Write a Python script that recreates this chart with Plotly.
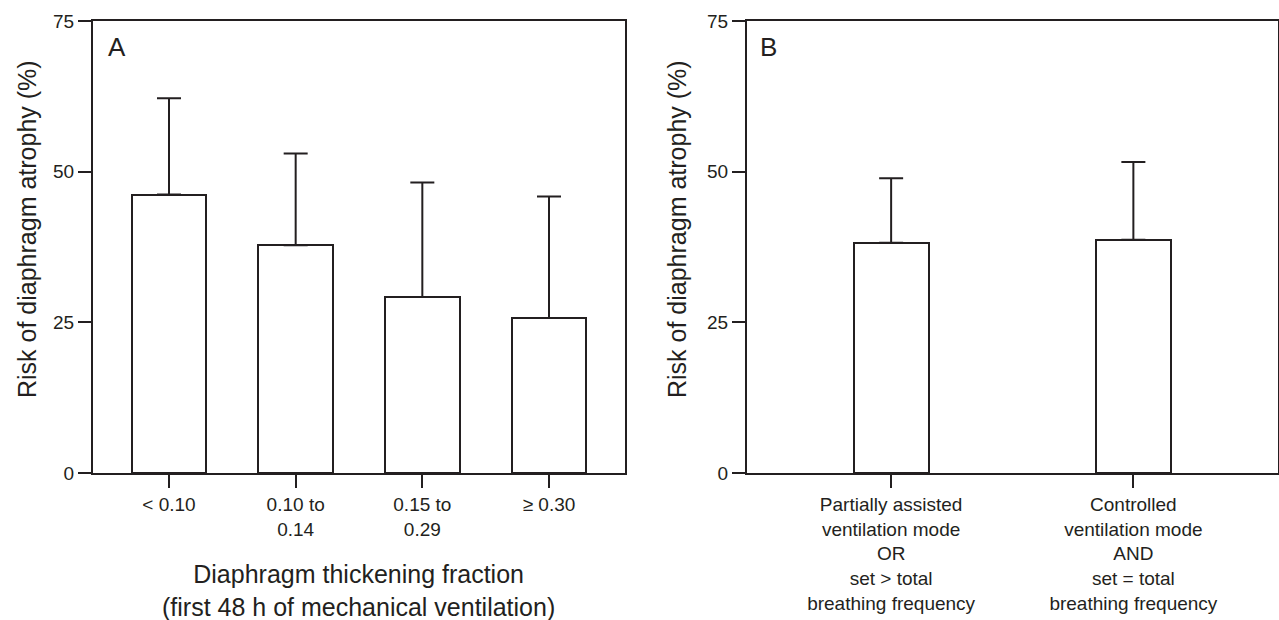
import plotly.graph_objects as go

# ---- data ----
thickening_groups = ["< 0.10", "0.10 to<br>0.14", "0.15 to<br>0.29", "≥ 0.30"]
risk_by_thickening = [46.2, 37.8, 29.2, 25.7]
upper_ci_thickening = [62.2, 53.0, 48.2, 45.9]

mode_groups = [
    "Partially assisted<br>ventilation mode<br>OR<br>set > total<br>breathing frequency",
    "Controlled<br>ventilation mode<br>AND<br>set = total<br>breathing frequency",
]
risk_by_mode = [38.2, 38.7]
upper_ci_mode = [48.9, 51.6]

y_ticks = [0, 25, 50, 75]

# ---- style ----
INK = "#231f20"
FONT = "Liberation Sans, Arial, Helvetica, sans-serif"
W, H = 1279, 620


def px_x(p):
    return p / W


def px_y(p):
    return 1 - p / H


fig = go.Figure()

fig.add_trace(go.Bar(
    x=thickening_groups, y=risk_by_thickening, width=0.592,
    marker=dict(color="white", line=dict(color=INK, width=2)),
    error_y=dict(type="data", symmetric=False,
                 array=[u - r for u, r in zip(upper_ci_thickening, risk_by_thickening)],
                 arrayminus=[0] * len(risk_by_thickening),
                 color=INK, thickness=2, width=12),
    xaxis="x", yaxis="y", showlegend=False, hoverinfo="x+y",
))

fig.add_trace(go.Bar(
    x=mode_groups, y=risk_by_mode, width=0.31,
    marker=dict(color="white", line=dict(color=INK, width=2)),
    error_y=dict(type="data", symmetric=False,
                 array=[u - r for u, r in zip(upper_ci_mode, risk_by_mode)],
                 arrayminus=[0] * len(risk_by_mode),
                 color=INK, thickness=2, width=12),
    xaxis="x2", yaxis="y2", showlegend=False, hoverinfo="x+y",
))

axis_common = dict(
    showline=True, linecolor=INK, linewidth=2, mirror=True,
    ticks="outside", ticklen=13, tickwidth=2, tickcolor=INK,
    showgrid=False, zeroline=False, automargin=False,
    tickfont=dict(family=FONT, size=19, color=INK),
)

fig.update_layout(
    template="none",
    width=W, height=H,
    margin=dict(l=0, r=0, t=0, b=0, pad=0),
    paper_bgcolor="white", plot_bgcolor="white",
    font=dict(family=FONT, color=INK),
    xaxis=dict(domain=[px_x(93), px_x(625)], anchor="y", type="category",
               range=[-0.6, 3.6], **axis_common),
    yaxis=dict(domain=[px_y(473), px_y(21)], anchor="x", range=[0, 75],
               tickvals=y_ticks, **axis_common),
    xaxis2=dict(domain=[px_x(747), px_x(1277.5)], anchor="y2", type="category",
                range=[-0.595, 1.595], **axis_common),
    yaxis2=dict(domain=[px_y(473), px_y(21)], anchor="x2", range=[0, 75],
                tickvals=y_ticks, **axis_common),
    bargap=0,
)

annotations = [
    dict(text="A", x=px_x(106), y=px_y(47), xanchor="left", yanchor="middle",
         font=dict(size=26)),
    dict(text="B", x=px_x(758), y=px_y(47), xanchor="left", yanchor="middle",
         font=dict(size=26)),
    dict(text="Risk of diaphragm atrophy (%)", textangle=-90,
         x=px_x(27), y=px_y(229), xanchor="center", yanchor="middle",
         font=dict(size=25)),
    dict(text="Risk of diaphragm atrophy (%)", textangle=-90,
         x=px_x(677), y=px_y(229), xanchor="center", yanchor="middle",
         font=dict(size=25)),
    dict(text="Diaphragm thickening fraction<br>(first 48 h of mechanical ventilation)",
         x=px_x(359), y=px_y(590), xanchor="center", yanchor="middle",
         font=dict(size=25)),
]
for a in annotations:
    a.update(xref="paper", yref="paper", showarrow=False)
    a["font"].update(family=FONT, color=INK)
fig.update_layout(annotations=annotations)

fig.write_html(
    "out.html",
    config={"displayModeBar": False},
    post_script="document.body.style.margin='0';document.body.style.overflow='hidden';",
)
